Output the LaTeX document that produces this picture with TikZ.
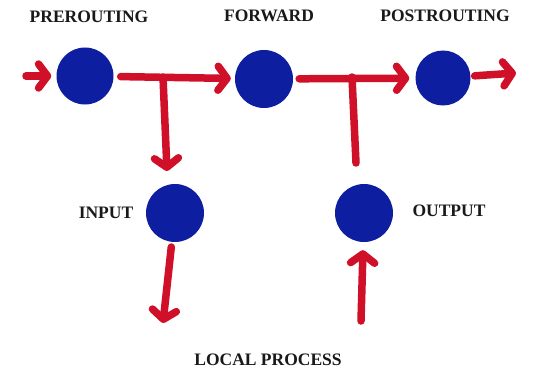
\documentclass[tikz,border=0pt]{standalone}
\usepackage{fontspec}
\setmainfont{Liberation Serif}
\usetikzlibrary{arrows.meta}
\definecolor{penred}{RGB}{208,16,40}
\definecolor{penblue}{RGB}{14,30,160}
\tikzset{
  dot/.style={circle, fill=penblue, draw=none, inner sep=0pt, minimum size=57pt},
  lbl/.style={font=\bfseries\fontsize{17.5}{20}\selectfont, text=black!90, inner sep=0pt},
  pen/.style={draw=penred, line width=7.5pt, line cap=round, line join=round},
  penarrow/.style={pen, -{Straight Barb[length=9pt, width=24pt, round]}}
}
\begin{document}
\begin{tikzpicture}[x=1pt, y=-1pt]
\useasboundingbox[fill=white] (0,0) rectangle (535,369);
% nodes
\node[dot] (pre)  at (85,76) {};
\node[dot, minimum size=58pt] (fwd)  at (264,79) {};
\node[dot, minimum size=55pt] (post) at (443,78) {};
\node[dot, minimum size=58pt] (in)   at (175,213) {};
\node[dot, minimum size=58pt] (out)  at (364,213) {};
% labels
\node[lbl] (lpre)  at (89,17)   {PREROUTING};
\node[lbl] (lfwd)  at (269,16)  {FORWARD};
\node[lbl] (lpost) at (445,16)  {POSTROUTING};
\node[lbl] (lin)   at (106,213) {INPUT};
\node[lbl] (lout)  at (449,211) {OUTPUT};
\node[lbl] (lloc)  at (268,360) {LOCAL PROCESS};
% coordinates
\coordinate (entry) at (26,76);
\coordinate (exit)  at (516,73);
\coordinate (j1) at (163,77);
\coordinate (j2) at (352,77);
\coordinate (intip) at (167,171);
\coordinate (outend) at (356,163);
\coordinate (inend) at (163,323);
\coordinate (outstart) at (361,321);
% connectors
\draw[penarrow, shorten >=5pt] (entry) -- (pre);
\draw[penarrow, shorten <=7pt, shorten >=4pt] (pre) -- (fwd);
\draw[penarrow, shorten <=6pt, shorten >=6pt] (fwd) -- (post);
\draw[penarrow, shorten <=4pt] (post) -- (exit);
\draw[penarrow] (j1) -- (intip);
\draw[pen] (j2) -- (outend);
\draw[penarrow, shorten <=5pt] (in) -- (inend);
\draw[penarrow, shorten >=8pt] (outstart) -- (out);
\end{tikzpicture}
\end{document}
